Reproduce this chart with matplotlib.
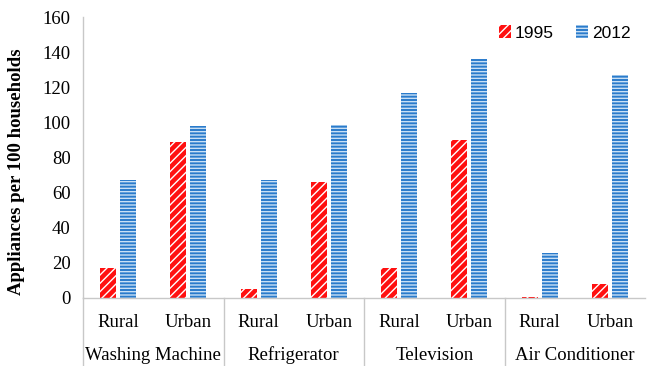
import matplotlib
matplotlib.use("Agg")
import matplotlib.pyplot as plt
from matplotlib.lines import Line2D
import numpy as np

# Appliance ownership per 100 households
groups = ["Washing Machine", "Refrigerator", "Television", "Air Conditioner"]
areas = ["Rural", "Urban"]
series_names = ["1995", "2012"]
values_1995 = [16.9, 89.0, 5.2, 66.2, 16.9, 89.8, 0.2, 8.1]
values_2012 = [67.2, 98.0, 67.3, 98.5, 116.9, 136.1, 25.4, 126.8]
y_ticks = [0, 20, 40, 60, 80, 100, 120, 140, 160]

plt.rcParams["hatch.linewidth"] = 1.0

fig = plt.figure(figsize=(6.48, 3.66), dpi=100)
ax = fig.add_axes([83 / 648, 1 - 297.7 / 366, 562 / 648, 280.4 / 366])

n = len(values_1995)
x = np.arange(n)
width = 0.227
offset = 0.142

b1 = ax.bar(x - offset, values_1995, width, facecolor="#FF1010", edgecolor="white",
            hatch="////", linewidth=0, label=series_names[0])
b2 = ax.bar(x + offset, values_2012, width, facecolor="#2A7BCB", edgecolor="#C9E0F5",
            hatch="-----", linewidth=0, label=series_names[1])

ax.set_xlim(-0.5, n - 0.5)
ax.set_ylim(0, 160)
ax.set_yticks(y_ticks)
serif = "Liberation Serif"
ax.set_yticklabels([str(t) for t in y_ticks], family=serif, fontsize=13.5)
ax.tick_params(axis="y", length=0, pad=9)

ax.set_xticks(x)
ax.set_xticklabels(areas * len(groups), family=serif, fontsize=13.5)
ax.tick_params(axis="x", length=0, pad=11.5)

for spine in ["top", "right"]:
    ax.spines[spine].set_visible(False)
for spine in ["left", "bottom"]:
    ax.spines[spine].set_color("#C8C8C8")
    ax.spines[spine].set_linewidth(1.0)

ax.set_ylabel("Appliances per 100 households", family=serif, fontsize=13.5,
              fontweight="bold")
ax.yaxis.set_label_coords(-0.103, 0.45)

# Group labels and separators of the two-level category axis
trans = ax.get_xaxis_transform()
for i, g in enumerate(groups):
    ax.text(2 * i + 0.5, -0.205, g, transform=trans, ha="center", va="center",
            family=serif, fontsize=13.5)
for xb in [-0.5, 1.5, 3.5, 5.5]:
    ax.add_line(Line2D([xb, xb], [0, -0.245], transform=trans, color="#C8C8C8",
                       linewidth=1.0, clip_on=False))

leg = ax.legend(loc="center", bbox_to_anchor=(565 / 648, 1 - 33 / 366),
                bbox_transform=fig.transFigure, ncol=2, frameon=False,
                prop={"family": "Liberation Sans", "size": 12.5},
                handlelength=0.65, handleheight=0.7, handletextpad=0.25,
                columnspacing=1.3)

fig.savefig("out.png", dpi=100)
